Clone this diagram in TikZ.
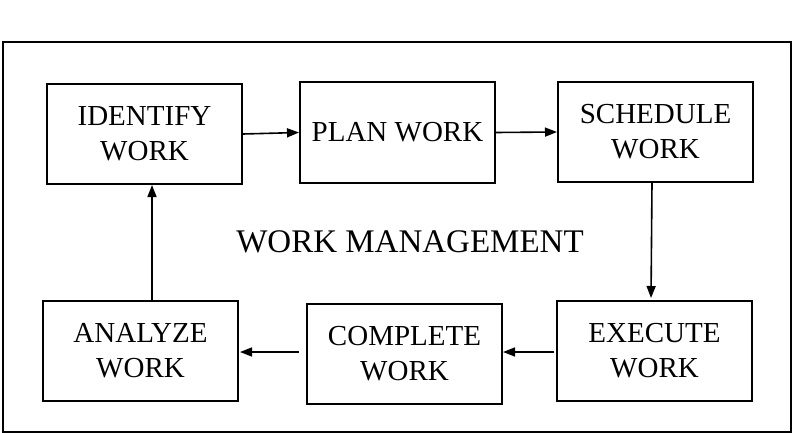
\documentclass[tikz,border=0pt]{standalone}
\usepackage{fontspec}
\setmainfont{Liberation Serif}
\usetikzlibrary{arrows.meta}
\begin{document}
\begin{tikzpicture}[x=1pt,y=1pt,
  wbox/.style={draw,line width=2pt,minimum width=195pt,minimum height=100pt,inner sep=0pt,align=center,font=\fontsize{29}{35}\selectfont},
  arr/.style={line width=1.6pt,-{Triangle[length=12pt,width=9pt]}}]
\useasboundingbox (0,0) rectangle (792,-433);
\draw[line width=2pt] (3,-42) rectangle (791,-432);
\node[wbox] (identify) at (144.5,-134) {IDENTIFY\\WORK};
\node[wbox] (plan) at (397.5,-132.5) {PLAN WORK};
\node[wbox] (schedule) at (655.5,-132) {SCHEDULE\\WORK};
\node[wbox] (analyze) at (140.5,-351) {ANALYZE\\WORK};
\node[wbox] (complete) at (404.5,-353.5) {COMPLETE\\WORK};
\node[wbox] (execute) at (654.5,-351) {EXECUTE\\WORK};
\node[font=\fontsize{33}{38}\selectfont] (title) at (410,-242) {WORK MANAGEMENT};
\coordinate (c1) at ([xshift=-7pt]complete.west);
\draw[arr] (identify.east) -- (plan.west);
\draw[arr] (plan.east) -- (schedule.west);
\draw[arr,shorten >=2pt] ([xshift=-3.5pt]schedule.south) -- ([xshift=-3.5pt]execute.north);
\draw[arr,shorten <=2pt] (execute.west |- 0,-352) -- (complete.east |- 0,-352);
\draw[arr,shorten >=1pt] (c1 |- 0,-352) -- (analyze.east |- 0,-352);
\draw[arr] ([xshift=11.5pt]analyze.north) -- ([xshift=7.5pt]identify.south);
\end{tikzpicture}
\end{document}
